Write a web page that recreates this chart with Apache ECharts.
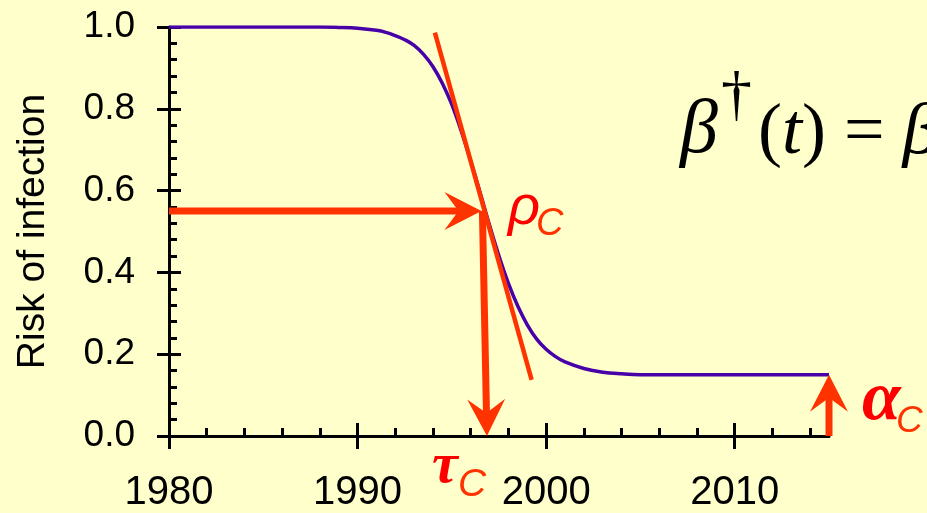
<!DOCTYPE html>
<html>
<head>
<meta charset="utf-8">
<style>
  html, body { margin: 0; padding: 0; background: #ffffcc; }
  #chart { width: 927px; height: 513px; }
</style>
<script src="https://cdn.jsdelivr.net/npm/echarts@6/dist/echarts.min.js"></script>
</head>
<body>
<div id="chart"></div>
<script>
// ---- data ----
const years = [1980, 1985, 1988, 1989, 1990, 1991, 1991.5, 1992, 1992.5, 1993, 1993.5, 1994, 1994.5, 1995, 1995.5, 1996, 1996.5, 1997, 1997.5, 1998, 1998.5, 1999, 1999.5, 2000, 2000.5, 2001, 2002, 2003, 2004, 2005, 2010, 2015];
const risk = [1.0, 1.0, 1.0, 0.999, 0.997, 0.992, 0.987, 0.979, 0.969, 0.955, 0.933, 0.903, 0.862, 0.81, 0.745, 0.672, 0.595, 0.515, 0.44, 0.373, 0.317, 0.272, 0.237, 0.212, 0.194, 0.181, 0.165, 0.156, 0.152, 0.15, 0.15, 0.15];
const tangentX = [1994.1, 1999.23];
const tangentY = [0.986, 0.137];
// arrows: [x1, y1, x2, y2] (tip at x2, y2)
const arrowRho = [1980, 0.55, 1996.57, 0.55];
const arrowTau = [1996.62, 0.55, 1996.86, 0];
const arrowAlpha = [2015, 0, 2015, 0.15];
const majorYears = [1980, 1990, 2000, 2010];

const RED = '#ff3300';
const BLACK = '#000';

const curveData = years.map((y, i) => [y, risk[i]]);
const tangentData = tangentX.map((x, i) => [x, tangentY[i]]);

function renderArrow(params, api) {
  const p1 = api.coord([api.value(0), api.value(1)]);
  const p2 = api.coord([api.value(2), api.value(3)]);
  const dx = p2[0] - p1[0], dy = p2[1] - p1[1];
  const len = Math.hypot(dx, dy);
  const ux = dx / len, uy = dy / len;
  const nx = -uy, ny = ux;
  const L = 37, W = 19, N = 14;
  const bx = p2[0] - ux * L, by = p2[1] - uy * L;
  const mx = p2[0] - ux * (L - N), my = p2[1] - uy * (L - N);
  return {
    type: 'group',
    children: [
      { type: 'line', shape: { x1: p1[0], y1: p1[1], x2: mx, y2: my }, style: { stroke: RED, lineWidth: 7 } },
      { type: 'polygon', shape: { points: [[p2[0], p2[1]], [bx + nx * W, by + ny * W], [mx, my], [bx - nx * W, by - ny * W]] }, style: { fill: RED } }
    ]
  };
}

const tickStyle = { color: BLACK, width: 3 };
const fontFam = '"Liberation Sans", Arial, sans-serif';
const serif = '"Liberation Serif", "Times New Roman", serif';

function txt(text, x, y, font, fill) {
  return { type: 'text', x: x, y: y, z: 100, style: { text: text, font: font, fill: fill, align: 'left', verticalAlign: 'middle', textAlign: 'left', textVerticalAlign: 'middle' } };
}

const option = {
  backgroundColor: '#ffffcc',
  animation: false,
  grid: { left: 169, right: 98, top: 27, bottom: 77, containLabel: false },
  xAxis: [
    {
      type: 'value', min: 1980, max: 2015, interval: 10, position: 'bottom',
      axisLine: { show: true, onZero: false, lineStyle: { color: BLACK, width: 3 } },
      axisTick: { show: true, inside: true, length: 13, lineStyle: tickStyle, customValues: majorYears },
      axisLabel: { show: true, customValues: majorYears, margin: 37, color: BLACK, fontSize: 40, fontFamily: fontFam,
        formatter: v => (majorYears.indexOf(v) >= 0 ? String(v) : '') },
      splitLine: { show: false }
    },
    {
      type: 'value', min: 1980, max: 2015, interval: 10, position: 'bottom',
      axisLine: { show: false, onZero: false },
      axisTick: { show: true, inside: false, length: 13, lineStyle: tickStyle, customValues: majorYears },
      axisLabel: { show: false },
      splitLine: { show: false }
    },
    {
      type: 'value', min: 1980, max: 2015, interval: 2, position: 'bottom',
      axisLine: { show: false, onZero: false },
      axisTick: { show: true, inside: true, length: 8, lineStyle: tickStyle },
      axisLabel: { show: false },
      splitLine: { show: false }
    }
  ],
  yAxis: [
    {
      type: 'value', min: 0, max: 1, interval: 0.2, position: 'left',
      name: 'Risk of infection', nameLocation: 'middle', nameRotate: 90, nameGap: 116,
      nameTextStyle: { fontSize: 39, fontFamily: fontFam, color: BLACK },
      axisLine: { show: true, onZero: false, lineStyle: { color: BLACK, width: 3 } },
      axisTick: { show: true, inside: true, length: 12, lineStyle: tickStyle },
      minorTick: { show: true, splitNumber: 5, length: 8, lineStyle: tickStyle },
      axisLabel: { show: true, margin: 34, color: BLACK, fontSize: 37, fontFamily: fontFam, formatter: v => v.toFixed(1) },
      splitLine: { show: false }
    },
    {
      type: 'value', min: 0, max: 1, interval: 0.2, position: 'left',
      axisLine: { show: false, onZero: false },
      axisTick: { show: true, inside: false, length: 12, lineStyle: tickStyle },
      axisLabel: { show: false },
      splitLine: { show: false }
    }
  ],
  series: [
    {
      type: 'line', data: curveData, xAxisIndex: 0, yAxisIndex: 0,
      showSymbol: false, smooth: 0.4,
      lineStyle: { color: '#4800a8', width: 3.5 }, z: 3
    },
    {
      type: 'line', data: tangentData, xAxisIndex: 0, yAxisIndex: 0,
      showSymbol: false, lineStyle: { color: RED, width: 4.5 }, z: 4
    },
    {
      type: 'custom', xAxisIndex: 0, yAxisIndex: 0, clip: false, z: 5,
      renderItem: renderArrow,
      data: [arrowRho, arrowTau, arrowAlpha]
    }
  ],
  graphic: [
    // formula
    txt('β', 680, 132, 'italic 76px ' + serif, BLACK),
    txt('†', 721, 98, '62px ' + serif, BLACK),
    { type: 'text', x: 758, y: 134, z: 100, style: {
        text: '{r|(}{i|t}{r|) = }{i|β}', verticalAlign: 'middle', textVerticalAlign: 'middle', align: 'left',
        rich: { r: { font: '72px ' + serif, fill: BLACK }, i: { font: 'italic 72px ' + serif, fill: BLACK } }
    } },
    // rho_C
    txt('ρ', 508, 208, 'italic 56px ' + fontFam, '#ff0000'),
    txt('C', 536, 224, 'italic 38px ' + fontFam, RED),
    // tau_C
    txt('τ', 432, 467, 'italic bold 58px ' + serif, '#ff0000'),
    txt('C', 458, 485, 'italic 39px ' + fontFam, RED),
    // alpha_C
    txt('α', 862, 401, 'italic bold 70px ' + serif, '#ff0000'),
    txt('C', 896, 422, 'italic 37px ' + fontFam, RED)
  ]
};

const chart = echarts.init(document.getElementById('chart'), null, { renderer: 'canvas' });
chart.setOption(option);
</script>
</body>
</html>
